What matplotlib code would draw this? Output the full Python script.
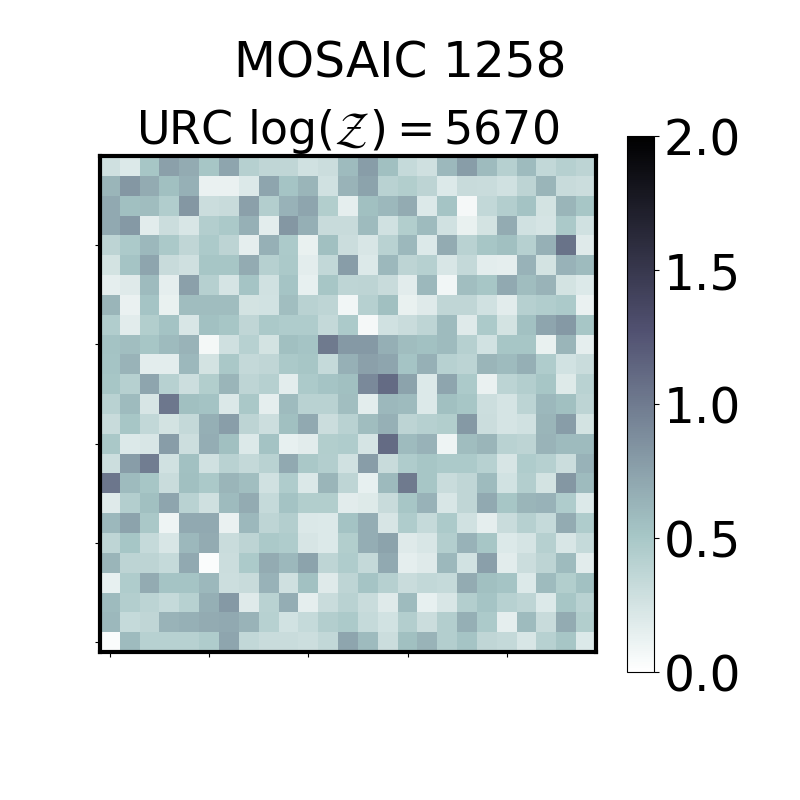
import matplotlib
matplotlib.use("Agg")
from matplotlib import pyplot
import numpy as np

title = "MOSAIC 1258"
subtitle = r"URC $\log(\mathcal{Z}) = 5670$"
cbar_ticks = [0.0, 0.5, 1.0, 1.5, 2.0]
tick_positions = [0, 5, 10, 15, 20]

# rows as seen in the picture, top to bottom
rows = [
    [.28, .20, .50, .75, .68, .50, .72, .42, .36, .36, .27, .30, .58, .78, .55, .33, .28, .60, .78, .58, .42, .58, .35, .42, .38],
    [.62, .82, .68, .55, .65, .12, .12, .20, .72, .52, .62, .27, .63, .74, .40, .44, .38, .20, .32, .31, .27, .38, .62, .32, .30],
    [.70, .55, .57, .45, .82, .30, .32, .75, .43, .64, .72, .44, .15, .55, .60, .68, .20, .52, .06, .35, .43, .53, .25, .62, .50],
    [.70, .80, .17, .30, .22, .43, .48, .65, .16, .82, .66, .32, .32, .58, .27, .44, .58, .27, .13, .25, .68, .27, .24, .48, .27],
    [.38, .47, .60, .48, .36, .47, .38, .15, .65, .47, .13, .55, .30, .22, .40, .60, .20, .68, .40, .50, .55, .42, .65, 1.05, .18],
    [.25, .52, .72, .32, .28, .50, .50, .68, .42, .48, .16, .35, .78, .20, .60, .38, .42, .22, .34, .16, .15, .64, .25, .64, .58],
    [.15, .18, .58, .15, .75, .42, .24, .52, .27, .52, .14, .50, .37, .38, .32, .17, .60, .08, .56, .50, .70, .57, .63, .25, .20],
    [.62, .12, .52, .13, .57, .57, .57, .25, .26, .56, .40, .37, .08, .42, .55, .13, .18, .36, .36, .27, .17, .42, .45, .47, .12],
    [.45, .17, .44, .53, .22, .54, .50, .36, .48, .46, .46, .34, .47, .06, .27, .31, .37, .58, .18, .47, .25, .54, .72, .80, .50],
    [.53, .56, .50, .58, .63, .07, .28, .41, .25, .55, .52, 1.0, .80, .80, .66, .57, .54, .58, .42, .26, .50, .50, .13, .62, .15],
    [.52, .63, .16, .16, .60, .25, .49, .34, .36, .48, .50, .33, .65, .75, .72, .52, .65, .41, .39, .62, .58, .66, .46, .26, .31],
    [.50, .42, .72, .41, .29, .44, .62, .37, .42, .16, .47, .52, .55, .90, 1.1, .74, .20, .72, .47, .12, .39, .43, .50, .19, .40],
    [.40, .58, .23, 1.02, .55, .53, .21, .49, .15, .58, .40, .40, .56, .16, .60, .58, .20, .55, .50, .29, .24, .39, .60, .55, .38],
    [.32, .50, .35, .25, .34, .66, .77, .38, .29, .55, .70, .30, .40, .57, .65, .38, .42, .44, .80, .30, .24, .27, .62, .78, .25],
    [.49, .20, .22, .78, .29, .67, .55, .20, .53, .14, .17, .44, .46, .24, 1.1, .58, .64, .10, .57, .62, .40, .38, .63, .58, .58],
    [.29, .78, .98, .27, .54, .27, .40, .34, .40, .70, .49, .43, .27, .78, .32, .46, .50, .47, .47, .41, .23, .46, .42, .30, .64],
    [1.03, .58, .50, .31, .55, .48, .62, .56, .27, .46, .21, .62, .37, .14, .59, 1.0, .50, .31, .36, .58, .26, .43, .25, .82, .58],
    [.18, .43, .55, .72, .40, .28, .58, .68, .33, .53, .44, .44, .17, .19, .32, .50, .64, .22, .36, .70, .50, .62, .64, .46, .20],
    [.60, .74, .49, .10, .70, .70, .12, .60, .37, .43, .21, .20, .53, .67, .23, .46, .33, .47, .27, .15, .31, .42, .33, .68, .46],
    [.37, .51, .33, .22, .60, .68, .31, .38, .48, .46, .23, .20, .44, .67, .74, .18, .22, .43, .64, .50, .20, .24, .42, .22, .33],
    [.62, .38, .38, .33, .70, .03, .30, .47, .68, .60, .74, .37, .46, .34, .70, .15, .18, .60, .26, .76, .17, .30, .38, .58, .17],
    [.14, .46, .68, .52, .52, .60, .29, .32, .64, .28, .54, .18, .37, .52, .42, .31, .35, .33, .68, .55, .52, .20, .58, .44, .54],
    [.58, .43, .39, .33, .41, .66, .80, .18, .40, .67, .15, .31, .40, .31, .18, .58, .14, .22, .43, .52, .41, .37, .20, .50, .40],
    [.60, .33, .36, .63, .65, .68, .70, .63, .41, .26, .33, .43, .47, .33, .26, .43, .30, .43, .66, .47, .15, .58, .32, .68, .44],
    [.03, .58, .41, .41, .41, .46, .72, .35, .31, .31, .29, .35, .72, .58, .30, .55, .63, .43, .52, .36, .34, .22, .41, .50, .20],
]

fig = pyplot.figure(figsize=(8, 8), dpi=100)
ax = fig.add_axes([100 / 800, 1 - 652 / 800, 496 / 800, 496 / 800])
cax = fig.add_axes([627 / 800, 1 - 672 / 800, 27 / 800, 536 / 800])

im = ax.imshow(np.array(rows)[::-1], cmap="bone_r", vmin=0, vmax=2, origin="lower", aspect="equal")
ax.set_xticks(tick_positions)
ax.set_yticks(tick_positions)
ax.set_xticklabels([])
ax.set_yticklabels([])
for spine in ax.spines.values():
    spine.set_linewidth(3)
ax.set_title(subtitle, fontsize=33, pad=6)

cbar = fig.colorbar(im, cax=cax)
cbar.set_ticks(cbar_ticks)
cbar.ax.tick_params(labelsize=35)

fig.suptitle(title, fontsize=35, x=0.5, y=0.92, va="center")
fig.savefig("out.png", dpi=100)
